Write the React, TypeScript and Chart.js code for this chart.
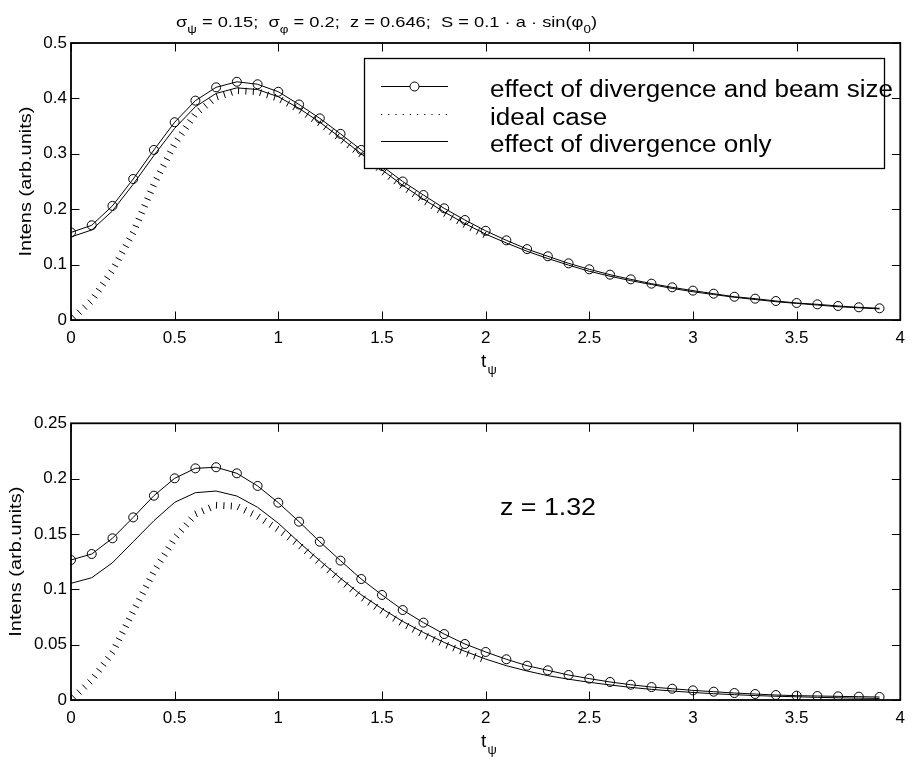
import React, { useEffect, useRef } from "react";
import { Chart, registerables } from "chart.js";
Chart.register(...registerables);

const FONT = '"Liberation Sans", Arial, Helvetica, sans-serif';

// t_psi sample positions
const T = [0, 0.1, 0.2, 0.3, 0.4, 0.5, 0.6, 0.7, 0.8, 0.9, 1.0, 1.1, 1.2, 1.3, 1.4, 1.5, 1.6, 1.7, 1.8, 1.9,
  2.0, 2.1, 2.2, 2.3, 2.4, 2.5, 2.6, 2.7, 2.8, 2.9, 3.0, 3.1, 3.2, 3.3, 3.4, 3.5, 3.6, 3.7, 3.8, 3.9];
const T_IDEAL = [0, 0.1, 0.2, 0.3, 0.4, 0.5, 0.6, 0.7, 0.8, 0.9, 1.0, 1.1, 1.2, 1.3, 1.4, 1.5, 1.6, 1.7, 1.8, 1.9, 2.0];

// top panel (z = 0.646)
const TOP_BEAM = [0.158, 0.171, 0.206, 0.2545, 0.307, 0.357, 0.396, 0.420, 0.430, 0.4255, 0.412, 0.389, 0.364, 0.336,
  0.307, 0.278, 0.250, 0.2256, 0.2016, 0.1805, 0.161, 0.1438, 0.128, 0.115, 0.1023, 0.0915, 0.0818, 0.0734, 0.0656,
  0.059, 0.053, 0.0475, 0.042, 0.0385, 0.0343, 0.0307, 0.0283, 0.0253, 0.0229, 0.0211];
const TOP_DIV = [0.150, 0.1625, 0.197, 0.245, 0.297, 0.346, 0.385, 0.409, 0.419, 0.416, 0.403, 0.382, 0.357, 0.329,
  0.300, 0.271, 0.243, 0.218, 0.195, 0.174, 0.155, 0.139, 0.124, 0.111, 0.099, 0.088, 0.079, 0.071, 0.064, 0.057,
  0.051, 0.046, 0.041, 0.037, 0.033, 0.030, 0.027, 0.024, 0.022, 0.020];
const TOP_IDEAL = [0, 0.035, 0.09, 0.158, 0.245, 0.318, 0.372, 0.402, 0.414, 0.412, 0.400, 0.380, 0.355, 0.327,
  0.298, 0.269, 0.241, 0.216, 0.193, 0.172, 0.153];

// bottom panel (z = 1.32)
const BOT_BEAM = [0.1265, 0.1319, 0.1461, 0.165, 0.1846, 0.2003, 0.2093, 0.2103, 0.2048, 0.1934, 0.1783, 0.1611,
  0.143, 0.1259, 0.1093, 0.0949, 0.0813, 0.0699, 0.0596, 0.0506, 0.0434, 0.0368, 0.031, 0.0268, 0.0226, 0.0193,
  0.0163, 0.0138, 0.0117, 0.0102, 0.0087, 0.0075, 0.0063, 0.0054, 0.0045, 0.0039, 0.0036, 0.0033, 0.003, 0.0027];
const BOT_DIV = [0.1054, 0.1105, 0.124, 0.143, 0.162, 0.1786, 0.1873, 0.1888, 0.1843, 0.1741, 0.1597, 0.1425, 0.126,
  0.110, 0.095, 0.0825, 0.071, 0.061, 0.052, 0.044, 0.037, 0.031, 0.0262, 0.022, 0.0188, 0.016, 0.0136, 0.0114,
  0.0096, 0.0081, 0.0068, 0.0057, 0.0048, 0.004, 0.0034, 0.0029, 0.0024, 0.002, 0.0017, 0.0014];
const BOT_IDEAL = [0, 0.018, 0.043, 0.080, 0.116, 0.146, 0.168, 0.176, 0.175, 0.166, 0.154, 0.140, 0.124, 0.108,
  0.093, 0.0805, 0.069, 0.059, 0.0505, 0.043, 0.036];

const X_TICKS = [0, 0.5, 1, 1.5, 2, 2.5, 3, 3.5, 4];
const TOP_Y_TICKS = [0, 0.1, 0.2, 0.3, 0.4, 0.5];
const BOT_Y_TICKS = [0, 0.05, 0.1, 0.15, 0.2, 0.25];

const LEGEND_LABELS = ["effect of divergence and beam size", "ideal case", "effect of divergence only"];
const Y_LABEL = "Intens (arb.units)";
const TITLE_PARTS = [
  { t: "σ", sub: false }, { t: "ψ", sub: true }, { t: " = 0.15;  σ", sub: false }, { t: "φ", sub: true },
  { t: " = 0.2;  z = 0.646;  S = 0.1 · a · sin(φ", sub: false }, { t: "0", sub: true }, { t: ")", sub: false },
];
const ANNOTATION = "z = 1.32";

const fmt = (v: any) => String(parseFloat(Number(v).toFixed(4)));

function drawHatch(ctx: CanvasRenderingContext2D, pts: { x: number; y: number }[], area: any) {
  ctx.save();
  ctx.beginPath();
  ctx.rect(area.left, area.top, area.right - area.left, area.bottom - area.top);
  ctx.clip();
  ctx.strokeStyle = "#000";
  ctx.lineWidth = 1;
  const spacing = 7.4;
  const half = 3.4;
  let carry = 4;
  ctx.beginPath();
  for (let i = 0; i < pts.length - 1; i++) {
    const a = pts[i], b = pts[i + 1];
    const dx = b.x - a.x, dy = b.y - a.y;
    const len = Math.hypot(dx, dy);
    if (len === 0) continue;
    const nx = -dy / len, ny = dx / len;
    let d = carry;
    while (d <= len) {
      const px = a.x + (dx * d) / len, py = a.y + (dy * d) / len;
      ctx.moveTo(px - nx * half, py - ny * half);
      ctx.lineTo(px + nx * half, py + ny * half);
      d += spacing;
    }
    carry = d - len;
  }
  ctx.stroke();
  ctx.restore();
}

function drawYLabel(ctx: CanvasRenderingContext2D, cx: number, cy: number) {
  ctx.save();
  ctx.font = `17px ${FONT}`;
  const w = ctx.measureText(Y_LABEL).width;
  const k = 150 / w;
  ctx.translate(cx, cy);
  ctx.rotate(-Math.PI / 2);
  ctx.scale(k, 1);
  ctx.fillStyle = "#000";
  ctx.textAlign = "center";
  ctx.textBaseline = "middle";
  ctx.fillText(Y_LABEL, 0, 0);
  ctx.restore();
}

function drawXLabel(ctx: CanvasRenderingContext2D, baseY: number) {
  ctx.save();
  ctx.fillStyle = "#000";
  ctx.textBaseline = "alphabetic";
  ctx.textAlign = "left";
  ctx.font = `19px ${FONT}`;
  ctx.fillText("t", 481, baseY);
  ctx.font = `13px ${FONT}`;
  ctx.fillText("ψ", 487.5, baseY + 7);
  ctx.restore();
}

function drawTitle(ctx: CanvasRenderingContext2D) {
  ctx.save();
  ctx.fillStyle = "#000";
  ctx.textBaseline = "alphabetic";
  const mainF = `15px ${FONT}`, subF = `11px ${FONT}`;
  let W = 0;
  for (const p of TITLE_PARTS) {
    ctx.font = p.sub ? subF : mainF;
    W += ctx.measureText(p.t).width;
  }
  const k = 421 / W;
  ctx.translate(176, 27);
  ctx.scale(k, 1);
  let x = 0;
  for (const p of TITLE_PARTS) {
    ctx.font = p.sub ? subF : mainF;
    ctx.fillText(p.t, x, p.sub ? 6 : 0);
    x += ctx.measureText(p.t).width;
  }
  ctx.restore();
}

function drawLegend(ctx: CanvasRenderingContext2D) {
  ctx.save();
  const L = 364.5, Tp = 58.5, R = 884.5, B = 168.5;
  ctx.fillStyle = "#fff";
  ctx.fillRect(L, Tp, R - L, B - Tp);
  ctx.strokeStyle = "#000";
  ctx.lineWidth = 1.3;
  ctx.strokeRect(L, Tp, R - L, B - Tp);
  const rows = [86.5, 114.5, 141.5];
  ctx.lineWidth = 1;
  // row 1: line with circle
  ctx.beginPath();
  ctx.moveTo(381, rows[0]);
  ctx.lineTo(448, rows[0]);
  ctx.stroke();
  ctx.beginPath();
  ctx.arc(414.5, rows[0], 4.5, 0, Math.PI * 2);
  ctx.fillStyle = "#fff";
  ctx.fill();
  ctx.stroke();
  // row 2: dotted
  ctx.save();
  ctx.setLineDash([1.2, 6]);
  ctx.beginPath();
  ctx.moveTo(381, rows[1]);
  ctx.lineTo(448, rows[1]);
  ctx.stroke();
  ctx.restore();
  // row 3: solid
  ctx.beginPath();
  ctx.moveTo(381, rows[2]);
  ctx.lineTo(448, rows[2]);
  ctx.stroke();
  // labels
  ctx.font = `23px ${FONT}`;
  ctx.fillStyle = "#000";
  ctx.textBaseline = "alphabetic";
  const k = 403 / ctx.measureText(LEGEND_LABELS[0]).width;
  LEGEND_LABELS.forEach((lab, i) => {
    ctx.save();
    ctx.translate(490, rows[i] + 10.3);
    ctx.scale(k, 1);
    ctx.fillText(lab, 0, 0);
    ctx.restore();
  });
  ctx.restore();
}

function drawAnnotation(ctx: CanvasRenderingContext2D, cy: number) {
  ctx.save();
  ctx.font = `23px ${FONT}`;
  ctx.fillStyle = "#000";
  ctx.textBaseline = "alphabetic";
  const k = 96 / ctx.measureText(ANNOTATION).width;
  ctx.translate(500, cy + 8.5);
  ctx.scale(k, 1);
  ctx.fillText(ANNOTATION, 0, 0);
  ctx.restore();
}

type PanelCfg = {
  beam: number[];
  div: number[];
  ideal: number[];
  yMax: number;
  yTicks: number[];
  padTop: number;
  xAxisH: number;
  yLabelCx: number;
  yLabelCy: number;
  xLabelBase: number;
  top: boolean;
};

function makeChart(canvas: HTMLCanvasElement, p: PanelCfg) {
  const tickFont = { family: FONT, size: 17 };
  const custom = {
    id: "custom",
    afterDatasetsDraw(chart: any) {
      const ctx = chart.ctx as CanvasRenderingContext2D;
      const a = chart.chartArea;
      const meta = chart.getDatasetMeta(0);
      drawHatch(ctx, meta.data.map((e: any) => ({ x: e.x, y: e.y })), a);
      const xs = chart.scales.x, ys = chart.scales.y;
      ctx.save();
      ctx.strokeStyle = "#000";
      ctx.lineWidth = 1;
      ctx.beginPath();
      for (const v of X_TICKS) {
        const px = Math.round(xs.getPixelForValue(v)) + 0.5;
        ctx.moveTo(px, a.bottom);
        ctx.lineTo(px, a.bottom - 8.5);
        ctx.moveTo(px, a.top);
        ctx.lineTo(px, a.top + 8.5);
      }
      for (const v of p.yTicks) {
        const py = Math.round(ys.getPixelForValue(v)) + 0.5;
        ctx.moveTo(a.left, py);
        ctx.lineTo(a.left + 8.5, py);
        ctx.moveTo(a.right, py);
        ctx.lineTo(a.right - 8.5, py);
      }
      ctx.stroke();
      ctx.lineWidth = 1.8;
      ctx.strokeRect(a.left, a.top, a.right - a.left, a.bottom - a.top);
      ctx.restore();
      if (p.top) drawLegend(ctx);
    },
    afterDraw(chart: any) {
      const ctx = chart.ctx as CanvasRenderingContext2D;
      drawYLabel(ctx, p.yLabelCx, p.yLabelCy);
      drawXLabel(ctx, p.xLabelBase);
      if (p.top) drawTitle(ctx);
      else drawAnnotation(ctx, 128);
    },
  };

  return new Chart(canvas, {
    type: "line",
    data: {
      datasets: [
        {
          label: LEGEND_LABELS[1],
          data: T_IDEAL.map((t, i) => ({ x: t, y: p.ideal[i] })),
          borderColor: "rgba(0,0,0,0)",
          borderWidth: 0,
          pointRadius: 0,
        },
        {
          label: LEGEND_LABELS[2],
          data: T.map((t, i) => ({ x: t, y: p.div[i] })),
          borderColor: "#000",
          borderWidth: 1,
          pointRadius: 0,
        },
        {
          label: LEGEND_LABELS[0],
          data: T.map((t, i) => ({ x: t, y: p.beam[i] })),
          borderColor: "#000",
          borderWidth: 1,
          pointRadius: 4.5,
          pointStyle: "circle",
          pointBorderColor: "#000",
          pointBackgroundColor: "rgba(0,0,0,0)",
          pointBorderWidth: 1,
        },
      ],
    },
    options: {
      responsive: false,
      animation: false,
      events: [],
      layout: { padding: { top: p.padTop, right: 7, left: 0, bottom: 0 } },
      plugins: { legend: { display: false }, tooltip: { enabled: false }, title: { display: false } },
      scales: {
        x: {
          type: "linear",
          min: 0,
          max: 4,
          afterBuildTicks: (s: any) => {
            s.ticks = X_TICKS.map((v) => ({ value: v }));
          },
          afterFit: (s: any) => {
            s.height = p.xAxisH;
          },
          ticks: { font: tickFont, color: "#000", padding: 8, maxRotation: 0, autoSkip: false, callback: fmt },
          grid: { display: false, drawTicks: false },
          border: { display: false },
        },
        y: {
          type: "linear",
          min: 0,
          max: p.yMax,
          afterBuildTicks: (s: any) => {
            s.ticks = p.yTicks.map((v) => ({ value: v }));
          },
          afterFit: (s: any) => {
            s.width = 71;
          },
          ticks: { font: tickFont, color: "#000", padding: 4, autoSkip: false, callback: fmt },
          grid: { display: false, drawTicks: false },
          border: { display: false },
        },
      },
    },
    plugins: [custom],
  } as any);
}

export default function App() {
  const topRef = useRef<HTMLCanvasElement>(null);
  const botRef = useRef<HTMLCanvasElement>(null);
  useEffect(() => {
    const c1 = makeChart(topRef.current!, {
      beam: TOP_BEAM,
      div: TOP_DIV,
      ideal: TOP_IDEAL,
      yMax: 0.5,
      yTicks: TOP_Y_TICKS,
      padTop: 43,
      xAxisH: 58,
      yLabelCx: 26,
      yLabelCy: 181.5,
      xLabelBase: 367,
      top: true,
    });
    const c2 = makeChart(botRef.current!, {
      beam: BOT_BEAM,
      div: BOT_DIV,
      ideal: BOT_IDEAL,
      yMax: 0.25,
      yTicks: BOT_Y_TICKS,
      padTop: 45.3,
      xAxisH: 57,
      yLabelCx: 16,
      yLabelCy: 183.7,
      xLabelBase: 369,
      top: false,
    });
    return () => {
      c1.destroy();
      c2.destroy();
    };
  }, []);
  return (
    <div style={{ position: "absolute", left: 0, top: 0, width: 913, height: 757, background: "#fff" }}>
      <canvas ref={topRef} width={913} height={378} style={{ position: "absolute", left: 0, top: 0, width: 913, height: 378 }} />
      <canvas ref={botRef} width={913} height={379} style={{ position: "absolute", left: 0, top: 378, width: 913, height: 379 }} />
    </div>
  );
}
